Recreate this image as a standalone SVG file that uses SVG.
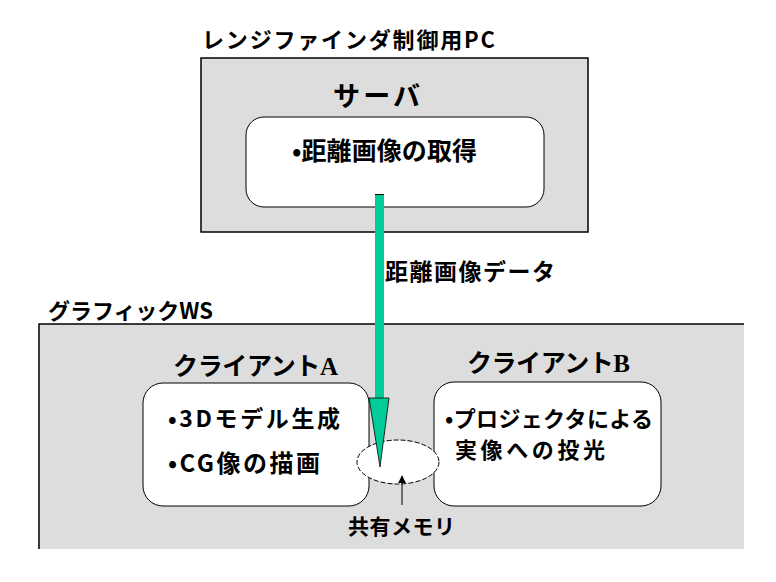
<svg xmlns="http://www.w3.org/2000/svg" width="776" height="582" viewBox="0 0 776 582">
<defs>
<style>
.t{font-family:"Noto Sans CJK JP","Noto Sans",sans-serif;font-weight:bold;fill:#000}
.box{fill:#fff;stroke:#000;stroke-width:1}
.gray{fill:#dddddd}
.edge{stroke:#000;stroke-width:1.5;fill:none}
.serif{font-family:"Liberation Serif",serif;font-weight:bold}
</style>
<marker id="ah" viewBox="0 0 10 10" refX="9" refY="5" markerWidth="8" markerHeight="8" orient="auto" markerUnits="userSpaceOnUse">
<path d="M0,0 L10,5 L0,10 Z" fill="#000"/>
</marker>
</defs>
<rect width="776" height="582" fill="#fff"/>

<g id="pc">
<rect class="gray" x="201" y="58" width="387" height="174"/>
<rect class="edge" x="201" y="58" width="387" height="174"/>
<text class="t" x="202" y="48" font-size="22" textLength="293" lengthAdjust="spacing">レンジファインダ制御用PC</text>
</g>

<g id="server">
<text class="t" x="333" y="106" font-size="27" textLength="87" lengthAdjust="spacing">サーバ</text>
<rect class="box" x="246" y="117" width="298" height="90" rx="18"/>
<text class="t" x="292" y="160" font-size="25" textLength="185" lengthAdjust="spacing">•距離画像の取得</text>
</g>

<g id="ws">
<rect class="gray" x="39" y="324" width="705" height="225"/>
<path class="edge" d="M39,549 V324 H744"/>
<text class="t" x="48" y="319" font-size="22" textLength="165" lengthAdjust="spacing">グラフィックWS</text>
</g>

<g id="clientA">
<text class="t" x="173" y="375" font-size="25" textLength="165" lengthAdjust="spacing">クライアント<tspan class="serif">A</tspan></text>
<rect class="box" x="143" y="383" width="226" height="123" rx="20"/>
<text class="t" x="168" y="427" font-size="23" textLength="172" lengthAdjust="spacing">•3Dモデル生成</text>
<text class="t" x="168" y="472" font-size="24" textLength="152" lengthAdjust="spacing">•CG像の描画</text>
</g>

<g id="clientB">
<text class="t" x="467" y="372" font-size="25" textLength="163" lengthAdjust="spacing">クライアント<tspan class="serif">B</tspan></text>
<rect class="box" x="434" y="382" width="227" height="124" rx="20"/>
<text class="t" x="445" y="427" font-size="22" textLength="208" lengthAdjust="spacing">•プロジェクタによる</text>
<text class="t" x="455" y="458" font-size="22" textLength="150" lengthAdjust="spacing">実像への投光</text>
</g>

<g id="memory">
<ellipse cx="398" cy="462" rx="41" ry="22" fill="#fff" stroke="#000" stroke-width="1" stroke-dasharray="5 2"/>
<text class="t" x="348" y="534" font-size="21" textLength="107" lengthAdjust="spacing">共有メモリ</text>
</g>

<g id="connectors">
<rect x="375" y="194" width="9" height="206" fill="#00cc99"/>
<line x1="375" y1="194.5" x2="384" y2="194.5" stroke="#000" stroke-width="1"/>
<path d="M369,398 L389,398 L380,467 Z" fill="#00cc99" stroke="#000" stroke-width="0.8"/>
<line x1="402" y1="505" x2="402" y2="476" stroke="#000" stroke-width="1" marker-end="url(#ah)"/>
<text class="t" x="385" y="280" font-size="23" textLength="170" lengthAdjust="spacing">距離画像データ</text>
</g>
</svg>
